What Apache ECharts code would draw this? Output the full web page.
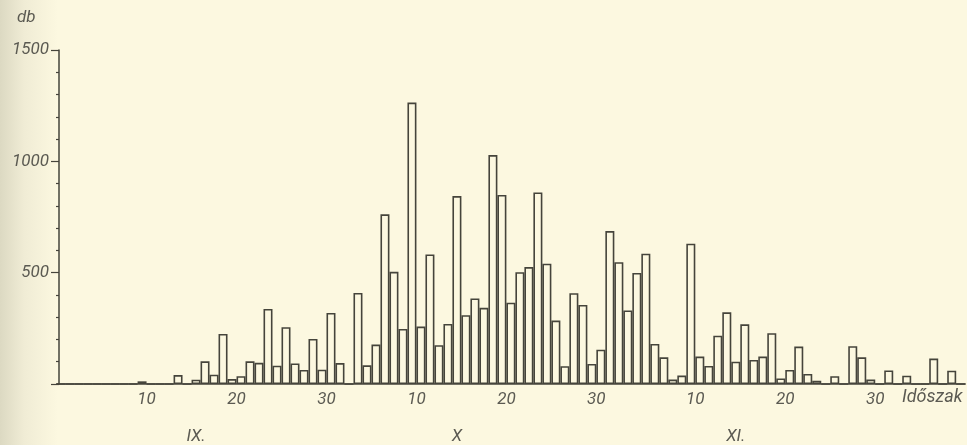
<!DOCTYPE html>
<html>
<head>
<meta charset="utf-8">
<script src="https://cdn.jsdelivr.net/npm/echarts@6/dist/echarts.min.js"></script>
<style>
  html, body { margin: 0; padding: 0; background: #fcf8e0; }
  #chart { width: 967px; height: 445px; }
</style>
</head>
<body>
<div id="chart"></div>
<script>
// Daily counts (db), September 1 – December 10
const septValues = [0,0,0,0,0,0,0,0,0,12, 0,0,0,40,0,19,102,42,225,22, 35,102,95,337,82,255,92,63,202,64];
const octValues  = [319,94,0,409,84,177,762,504,247,1264, 258,582,174,270,844,309,384,342,1028,849, 365,502,525,860,540,285,80,408,355,90, 154];
const novValues  = [687,547,330,499,585,180,120,20,38,630, 123,81,217,322,100,268,108,123,228,25, 63,168,45,15,0,35,0,170,120,20];
const decValues  = [0,61,0,37,0,0,114,0,60,0];

const months = [
  { name: 'IX.', values: septValues },
  { name: 'X.',  values: octValues },
  { name: 'XI.', values: novValues },
  { name: 'XII.', values: decValues }
];

// tick labels on the time axis (day of month) and month labels
const dayTicks = ['IX.10','IX.20','IX.30','X.10','X.20','X.30','XI.10','XI.20','XI.30'];
const monthLabels = { 'IX.16': 'IX.', 'X.15': 'X', 'XI.15': 'XI.' };
const yTicks = [0, 500, 1000, 1500];

const categories = [];
const values = [];
months.forEach(m => {
  m.values.forEach((v, i) => {
    categories.push(m.name + (i + 1));
    values.push(v);
  });
});

const textColor = '#5b5a52';
const lineColor = '#45443b';
const fontFamily = 'Roboto, "DejaVu Sans", sans-serif';
const fontSize = 17;

const chart = echarts.init(document.getElementById('chart'), null, { renderer: 'canvas' });
chart.setOption({
  animation: false,
  backgroundColor: {
    type: 'linear', x: 0, y: 0, x2: 1, y2: 0,
    colorStops: [
      { offset: 0, color: '#dcd9c2' },
      { offset: 0.025, color: '#f0ecd5' },
      { offset: 0.06, color: '#fcf8e0' },
      { offset: 1, color: '#fcf8e0' }
    ]
  },
  grid: { left: 56.6, right: 1.8, top: 50, bottom: 60.5, containLabel: false },
  xAxis: [
    {
      type: 'category',
      data: categories,
      boundaryGap: true,
      axisLine: { show: true, lineStyle: { color: lineColor, width: 1.5 } },
      axisTick: { show: false },
      splitLine: { show: false },
      axisLabel: {
        interval: 0,
        margin: 7,
        color: textColor,
        fontStyle: 'italic',
        fontSize: fontSize,
        fontFamily: fontFamily,
        padding: [0, 0, 0, 9],
        formatter: (val) => dayTicks.includes(val) ? val.split('.')[1] : ''
      }
    },
    {
      type: 'category',
      data: categories,
      position: 'bottom',
      boundaryGap: true,
      axisLine: { show: false },
      axisTick: { show: false },
      splitLine: { show: false },
      axisLabel: {
        interval: 0,
        margin: 44,
        color: textColor,
        fontStyle: 'italic',
        fontSize: fontSize,
        fontFamily: fontFamily,
        formatter: (val) => monthLabels[val] || ''
      }
    }
  ],
  yAxis: {
    type: 'value',
    min: yTicks[0],
    max: yTicks[yTicks.length - 1],
    interval: 500,
    offset: -2.4,
    axisLine: { show: true, lineStyle: { color: lineColor, width: 1.5 } },
    axisTick: { show: true, length: 8, lineStyle: { color: lineColor, width: 1.2 } },
    minorTick: { show: true, splitNumber: 5, length: 3, lineStyle: { color: lineColor, width: 1.2 } },
    splitLine: { show: false },
    axisLabel: {
      margin: 10,
      color: textColor,
      fontStyle: 'italic',
      fontSize: fontSize,
      fontFamily: fontFamily,
      formatter: (v) => v === 0 ? '' : String(v)
    }
  },
  graphic: [
    {
      type: 'text', left: 17, top: 9,
      style: { text: 'db', fill: textColor, font: 'italic ' + fontSize + 'px ' + fontFamily }
    },
    {
      type: 'text', left: 902, top: 388,
      style: { text: 'Időszak', fill: textColor, font: 'italic 18px ' + fontFamily }
    }
  ],
  series: [{
    type: 'bar',
    data: values,
    barCategoryGap: '0%',
    barGap: '0%',
    itemStyle: {
      color: 'rgba(0,0,0,0)',
      borderColor: lineColor,
      borderWidth: 1.6
    },
    emphasis: { disabled: true }
  }]
});
</script>
</body>
</html>
